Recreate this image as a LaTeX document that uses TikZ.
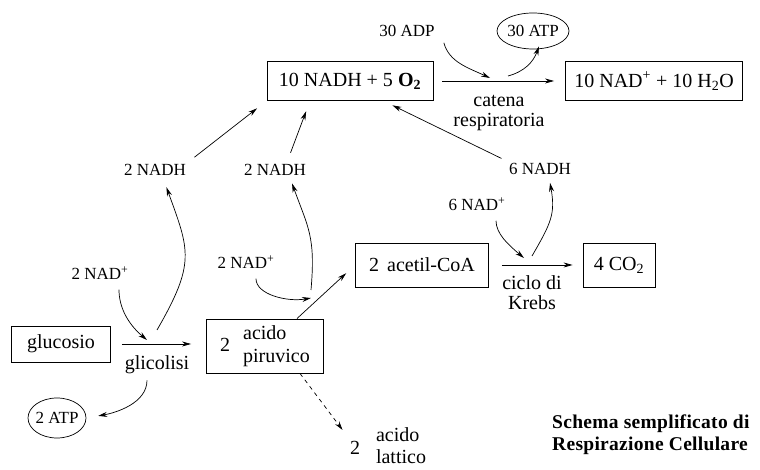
\documentclass[tikz,border=0pt]{standalone}
\usepackage{fontspec}
\setmainfont{Liberation Serif}
\newfontfamily\titolofont[LetterSpace=1.5]{Liberation Serif}
\usetikzlibrary{arrows.meta,shapes.geometric}
\tikzset{
  box/.style={draw, line width=0.9pt, inner sep=0pt, font=\fontsize{20}{24}\selectfont},
  lab/.style={inner sep=2pt, font=\fontsize{17}{20}\selectfont},
  big/.style={inner sep=0pt, align=center, font=\fontsize{20}{20}\selectfont},
  bulle/.style={draw, ellipse, line width=0.7pt, inner xsep=-3pt, inner ysep=0pt, font=\fontsize{17}{20}\selectfont},
  arr/.style={line width=0.7pt, -{Stealth[length=9pt, width=5pt]}}
}
\begin{document}
\begin{tikzpicture}[x=1pt, y=1pt]
	\useasboundingbox (0,0) rectangle (760,470);
	\node[box, minimum width=166pt, minimum height=39pt] (nadho) at (350,389) {10 NADH + 5 \textbf{O\textsubscript{2}}};
	\node[box, minimum width=177pt, minimum height=39pt] (nadhdue) at (654,389) {10 NAD\textsuperscript{+} + 10 H\textsubscript{2}O};
	\node[big] (catena) at (499,357) {catena\\respiratoria};
	\node[lab] (adp) at (407,439) {30 ADP};
	\node[bulle, minimum width=72pt, minimum height=36pt] (atptrenta) at (533,439) {30 ATP};
	\node[lab] (nadhA) at (155,300) {2 NADH};
	\node[lab] (nadhB) at (275,300) {2 NADH};
	\node[lab] (nadhC) at (540,301) {6 NADH};
	\node[lab] (nadA) at (100,197) {2 NAD\textsuperscript{+}};
	\node[lab] (nadB) at (246,208) {2 NAD\textsuperscript{+}};
	\node[lab] (nadC) at (477,266) {6 NAD\textsuperscript{+}};
	\node[box, minimum width=99pt, minimum height=36pt] (glucosio) at (61,126) {glucosio};
	\node[box, minimum width=117pt, minimum height=54pt] (piruvico) at (265,124)
		{2\hspace{13pt}\begin{tabular}{@{}l@{}}acido\\[-1pt]piruvico\end{tabular}};
	\node[box, minimum width=133pt, minimum height=44pt] (acetil) at (422,205) {2\hspace{8pt}acetil-CoA};
	\node[box, minimum width=72pt, minimum height=44pt] (co) at (619,205) {4 CO\textsubscript{2}};
	\node[big] (glicolisi) at (157,105) {glicolisi};
	\node[big] (krebs) at (532,177) {ciclo di\\Krebs};
	\node[bulle, minimum width=58pt, minimum height=40pt] (atpdue) at (57,52) {2 ATP};
	\node[big] (latdue) at (355,22) {2};
	\node[inner sep=0pt, align=left, font=\fontsize{20}{22}\selectfont] (lattico) at (401,24) {acido\\lattico};
	\node[anchor=west, align=left, inner sep=0pt, font=\fontsize{19.5}{22}\titolofont\bfseries] (titolo) at (552,35)
		{Schema semplificato di\\Respirazione Cellulare};
	%punti liberi
	\coordinate (catIn) at (490,392);
	\coordinate (catOut) at (508,394);
	\coordinate (glyIn) at (147,130);
	\coordinate (glyOut) at (157,140);
	\coordinate (pyIn) at (311,172);
	\coordinate (pyOut) at (311,180);
	\coordinate (krIn) at (524,212);
	\coordinate (krOut) at (532,214);
	%frecce
	\draw[arr, shorten <=9pt, shorten >=11pt] (nadho) -- (nadhdue);
	\draw[arr, shorten <=4pt] ([xshift=6pt]adp.south east) to[out=-75, in=155] (catIn);
	\draw[arr] (catOut) to[out=15, in=-110] ([xshift=6pt, yshift=3pt]atptrenta.south);
	\draw[arr, shorten <=8pt, shorten >=12pt] (nadhA.north east) -- (nadho.south west);
	\draw[arr, shorten <=10pt, shorten >=11pt] ([xshift=12pt]nadhB.north) -- ([xshift=-40pt]nadho.south);
	\draw[arr, shorten <=6pt, shorten >=10pt] (nadhC.north west) -- ([xshift=-50pt]nadho.south east);
	\draw[arr, shorten <=11pt, shorten >=15pt] (glucosio.east) -- (glucosio.east -| piruvico.west);
	\draw[arr, shorten <=8pt] ([xshift=19pt]nadA.south) to[out=-90, in=140] (glyIn);
	\draw[arr, shorten >=10pt] (glyOut) to[out=60, in=-70, looseness=1.3] ([xshift=8pt]nadhA.south);
	\draw[arr, shorten <=6pt, shorten >=12pt] ([xshift=-10pt]glicolisi.south) to[out=-90, in=10] (atpdue.east);
	\draw[arr, shorten >=12pt] ([xshift=32pt]piruvico.north) -- (acetil.west);
	\draw[arr, shorten <=8pt] ([xshift=10pt]nadB.south) to[out=-90, in=190] (pyIn);
	\draw[arr, shorten >=6pt] (pyOut) to[out=85, in=-70, looseness=1.2] ([xshift=15pt]nadhB.south);
	\draw[arr, shorten <=13pt, shorten >=10pt] (acetil) -- (co);
	\draw[arr, shorten <=8pt] ([xshift=19pt]nadC.south) to[out=-90, in=140] (krIn);
	\draw[arr, shorten >=6pt] (krOut) to[out=60, in=-80, looseness=1.2] ([xshift=9pt]nadhC.south);
	\draw[arr, dash pattern=on 4pt off 4pt, shorten >=14pt] ([xshift=35pt]piruvico.south) -- ([xshift=-4pt]latdue.north);
\end{tikzpicture}
\end{document}
